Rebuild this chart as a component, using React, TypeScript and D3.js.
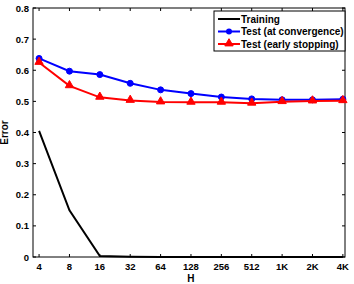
import { useEffect, useRef } from "react";
import * as d3 from "d3";

// H values on the x axis (log2 spaced) and their labels
const H_LABELS = ["4", "8", "16", "32", "64", "128", "256", "512", "1K", "2K", "4K"];
const H_EXP = [2, 3, 4, 5, 6, 7, 8, 9, 10, 11, 12];

const TRAINING = [0.405, 0.15, 0.003, 0.001, 0, 0, 0, 0, 0, 0, 0];
const TEST_CONV = [0.638, 0.597, 0.586, 0.558, 0.537, 0.525, 0.514, 0.508, 0.505, 0.505, 0.507];
const TEST_EARLY = [0.625, 0.55, 0.513, 0.503, 0.498, 0.497, 0.497, 0.494, 0.499, 0.501, 0.502];

const Y_TICKS = [0, 0.1, 0.2, 0.3, 0.4, 0.5, 0.6, 0.7, 0.8];

const SERIES = [
  { label: "Training", values: TRAINING, color: "#000000", marker: "none" },
  { label: "Test (at convergence)", values: TEST_CONV, color: "#0000ff", marker: "circle" },
  { label: "Test (early stopping)", values: TEST_EARLY, color: "#ff0000", marker: "triangle" },
];

export default function App() {
  const svgRef = useRef<SVGSVGElement | null>(null);

  useEffect(() => {
    const width = 354;
    const height = 284;
    const margin = { top: 8, right: 9, bottom: 27, left: 33 };
    const innerW = width - margin.left - margin.right;
    const innerH = height - margin.top - margin.bottom;
    const font = "'Liberation Sans', Arial, sans-serif";

    const svg = d3.select(svgRef.current);
    svg.selectAll("*").remove();
    svg.attr("width", width).attr("height", height);

    const g = svg.append("g").attr("transform", `translate(${margin.left},${margin.top})`);

    const x = d3.scaleLinear().domain([1.8, 12.07]).range([0, innerW]);
    const y = d3.scaleLinear().domain([0, 0.8]).range([innerH, 0]);

    // frame
    g.append("rect")
      .attr("width", innerW).attr("height", innerH)
      .attr("fill", "white").attr("stroke", "#000").attr("stroke-width", 1);

    const tl = 3;
    // x ticks bottom & top
    H_EXP.forEach((e, i) => {
      const px = x(e);
      g.append("line").attr("x1", px).attr("x2", px).attr("y1", innerH).attr("y2", innerH - tl)
        .attr("stroke", "#000");
      g.append("line").attr("x1", px).attr("x2", px).attr("y1", 0).attr("y2", tl)
        .attr("stroke", "#000");
      g.append("text").attr("x", px).attr("y", innerH + 13)
        .attr("text-anchor", "middle").attr("font-family", font)
        .attr("font-size", 9.5).attr("font-weight", "bold")
        .text(H_LABELS[i]);
    });
    // y ticks left & right
    Y_TICKS.forEach((t) => {
      const py = y(t);
      g.append("line").attr("x1", 0).attr("x2", tl).attr("y1", py).attr("y2", py).attr("stroke", "#000");
      g.append("line").attr("x1", innerW).attr("x2", innerW - tl).attr("y1", py).attr("y2", py).attr("stroke", "#000");
      g.append("text").attr("x", -4).attr("y", py + 3.5)
        .attr("text-anchor", "end").attr("font-family", font)
        .attr("font-size", 9.5).attr("font-weight", "bold")
        .text(t === 0 ? "0" : d3.format(".1f")(t));
    });

    // axis labels
    g.append("text").attr("x", x(7)).attr("y", innerH + 25)
      .attr("text-anchor", "middle").attr("font-family", font)
      .attr("font-size", 10).attr("font-weight", "bold").text("H");
    g.append("text").attr("transform", "rotate(-90)")
      .attr("x", -innerH / 2).attr("y", -25)
      .attr("text-anchor", "middle").attr("font-family", font)
      .attr("font-size", 10).attr("font-weight", "bold").text("Error");

    const line = d3.line<number>().x((_, i) => x(H_EXP[i])).y((d) => y(d));
    const tri = d3.symbol().type(d3.symbolTriangle).size(30);

    SERIES.forEach((s) => {
      g.append("path").datum(s.values)
        .attr("fill", "none").attr("stroke", s.color).attr("stroke-width", 2)
        .attr("d", line);
      if (s.marker === "circle") {
        g.selectAll(null).data(s.values).enter().append("circle")
          .attr("cx", (_, i) => x(H_EXP[i])).attr("cy", (d) => y(d))
          .attr("r", 3).attr("fill", s.color).attr("stroke", s.color);
      } else if (s.marker === "triangle") {
        g.selectAll(null).data(s.values).enter().append("path")
          .attr("d", tri)
          .attr("transform", (d, i) => `translate(${x(H_EXP[i])},${y(d) - 0.5})`)
          .attr("fill", s.color).attr("stroke", s.color);
      }
    });

    // legend
    const lg = svg.append("g").attr("transform", `translate(214,11)`);
    lg.append("rect").attr("width", 131).attr("height", 40)
      .attr("fill", "white").attr("stroke", "#000").attr("stroke-width", 1);
    SERIES.forEach((s, i) => {
      const ry = 8 + i * 12.5;
      lg.append("line").attr("x1", 4).attr("x2", 26).attr("y1", ry).attr("y2", ry)
        .attr("stroke", s.color).attr("stroke-width", 2);
      if (s.marker === "circle") {
        lg.append("circle").attr("cx", 15).attr("cy", ry).attr("r", 3).attr("fill", s.color);
      } else if (s.marker === "triangle") {
        lg.append("path").attr("d", tri).attr("transform", `translate(15,${ry - 0.5})`)
          .attr("fill", s.color).attr("stroke", s.color);
      }
      lg.append("text").attr("x", 27).attr("y", ry + 3.5)
        .attr("font-family", font).attr("font-size", 10).attr("font-weight", "bold")
        .text(s.label);
    });
  }, []);

  return (
    <div style={{ position: "absolute", left: 0, top: 0 }}>
      <svg ref={svgRef}></svg>
    </div>
  );
}
